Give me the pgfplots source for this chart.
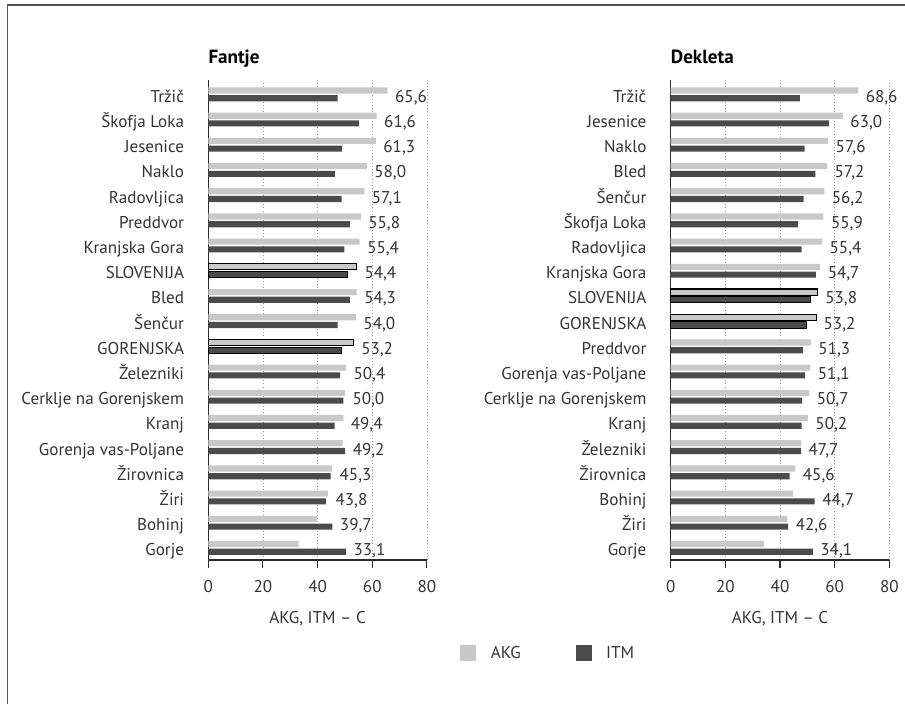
\documentclass[border=0pt]{standalone}
\usepackage{fontspec}
\setmainfont{PT Sans}
\usepackage{pgfplots}
\usepackage{pgfplotstable}
\pgfplotsset{compat=1.18}

\definecolor{akgc}{HTML}{C8C8C8}
\definecolor{itmc}{HTML}{4B4B4B}
\definecolor{txt}{HTML}{333333}
\definecolor{axc}{HTML}{2B2B2B}
\definecolor{framec}{HTML}{555555}

% rows from bottom (idx 0) to top (idx 18)
\pgfplotstableread[col sep=comma]{
idx,name,akg,itm
0,Gorje,33.1,50.4
1,Bohinj,39.7,45.4
2,Žiri,43.8,43.0
3,Žirovnica,45.3,44.8
4,Gorenja vas-Poljane,49.2,50.1
5,Kranj,49.4,46.2
6,Cerklje na Gorenjskem,50.0,49.4
7,Železniki,50.4,48.2
8,GORENJSKA,53.2,48.8
9,Šenčur,54.0,47.3
10,Bled,54.3,51.8
11,SLOVENIJA,54.4,51.1
12,Kranjska Gora,55.4,49.8
13,Preddvor,55.8,51.8
14,Radovljica,57.1,48.8
15,Naklo,58.0,46.3
16,Jesenice,61.3,49.0
17,Škofja Loka,61.6,55.2
18,Tržič,65.6,47.3
}\fantje

\pgfplotstableread[col sep=comma]{
idx,name,akg,itm
0,Gorje,34.1,52.0
1,Žiri,42.6,43.0
2,Bohinj,44.7,52.7
3,Žirovnica,45.6,43.5
4,Železniki,47.7,47.7
5,Kranj,50.2,47.9
6,Cerklje na Gorenjskem,50.7,48.1
7,Gorenja vas-Poljane,51.1,49.2
8,Preddvor,51.3,48.4
9,GORENJSKA,53.2,49.6
10,SLOVENIJA,53.8,51.0
11,Kranjska Gora,54.7,53.1
12,Radovljica,55.4,47.9
13,Škofja Loka,55.9,46.5
14,Šenčur,56.2,48.6
15,Bled,57.2,52.9
16,Naklo,57.6,49.0
17,Jesenice,63.0,57.9
18,Tržič,68.6,47.3
}\dekleta

\newcommand{\lblfont}{\fontsize{12.8}{14}\selectfont}

\pgfplotsset{
  panel/.style={
    scale only axis, width=164pt, height=360pt,
    anchor=south west,
    xmin=0, xmax=80, ymin=-0.48, ymax=18.57,
    axis x line*=bottom, axis y line*=left,
    axis line style={line width=1pt, axc, -},
    xtick={0,20,40,60,80}, ytick={0,...,18},
    tick align=outside, major tick length=6pt,
    xtick style={axc, line width=0.8pt},
    ytick style={draw=none},
    xmajorgrids, grid style={dotted, gray!80, line width=0.5pt},
    tick label style={font=\lblfont, text=txt},
    yticklabel style={anchor=base east, inner sep=0pt, xshift=-12pt, yshift=-6pt},
    xticklabel style={anchor=base, inner sep=0pt, yshift=-18pt},
    xlabel={AKG, ITM -- C},
    xlabel style={at={(axis description cs:0.5,0)}, anchor=base, inner sep=0pt, yshift=-47.25pt, font=\lblfont, text=txt},
    title style={at={(axis description cs:0,1)}, anchor=base west, inner sep=0pt, yshift=6pt, font=\fontsize{14.3}{16}\selectfont\bfseries, text=black},
    clip=false,
    /pgf/number format/assume math mode=true,
  },
  akgbar/.style={xbar, bar width=4.6pt, bar shift=2.9pt, fill=akgc, draw=none, forget plot},
  itmbar/.style={xbar, bar width=4.6pt, bar shift=-2.9pt, fill=itmc, draw=none, forget plot},
  outlined/.style={draw=black, line width=0.8pt},
  valuelabels/.style={
    draw=none, mark=none, forget plot,
    nodes near coords={\pgfmathprintnumber[fixed,fixed zerofill,precision=1,use comma]{\pgfplotspointmeta}},
    point meta=explicit,
    every node near coord/.style={anchor=base west, inner sep=0pt, xshift=5.5pt, yshift=-6pt, font=\lblfont, text=txt},
  },
  % only the GORENJSKA (8) and SLOVENIJA (11) rows of the boys' table
  fantjeref/.style={skip coords between index={0}{8}, skip coords between index={9}{11}, skip coords between index={12}{19}},
  % only the GORENJSKA (9) and SLOVENIJA (10) rows of the girls' table
  dekletaref/.style={skip coords between index={0}{9}, skip coords between index={11}{19}},
}

\begin{document}
\begin{tikzpicture}
\path[use as bounding box] (0,0) rectangle (678.75pt,528pt);
\draw[line width=1.4pt, framec] (5.6pt,0) -- (5.6pt,524.3pt) -- (678.75pt,524.3pt);

% Fantje
\begin{axis}[panel, at={(156.2pt,108pt)}, title={Fantje},
  yticklabels from table={\fantje}{name},
  legend style={at={(axis description cs:1.151,-0.194)}, anchor=west, draw=none, fill=none,
    legend columns=2, inner sep=0pt, font=\lblfont, text=txt,
    /tikz/every odd column/.append style={column sep=9pt},
    /tikz/every even column/.append style={column sep=39pt}},
  legend image code/.code={\path[#1] (0pt,-6pt) rectangle (12pt,6pt);},
]
\addplot[akgbar] table[x=akg, y=idx] {\fantje};
\addplot[itmbar] table[x=itm, y=idx] {\fantje};
\addplot[akgbar, outlined, fantjeref] table[x=akg, y=idx] {\fantje};
\addplot[itmbar, outlined, fantjeref] table[x=itm, y=idx] {\fantje};
\addplot[valuelabels] table[x expr={max(\thisrow{akg},\thisrow{itm})}, y=idx, meta=akg] {\fantje};
\addlegendimage{fill=akgc, draw=none}\addlegendentry{AKG}
\addlegendimage{fill=itmc, draw=none}\addlegendentry{ITM}
\end{axis}

% Dekleta
\begin{axis}[panel, at={(503pt,108pt)}, title={Dekleta},
  yticklabels from table={\dekleta}{name},
]
\addplot[akgbar] table[x=akg, y=idx] {\dekleta};
\addplot[itmbar] table[x=itm, y=idx] {\dekleta};
\addplot[akgbar, outlined, dekletaref] table[x=akg, y=idx] {\dekleta};
\addplot[itmbar, outlined, dekletaref] table[x=itm, y=idx] {\dekleta};
\addplot[valuelabels] table[x expr={max(\thisrow{akg},\thisrow{itm})}, y=idx, meta=akg] {\dekleta};
\end{axis}
\end{tikzpicture}
\end{document}
